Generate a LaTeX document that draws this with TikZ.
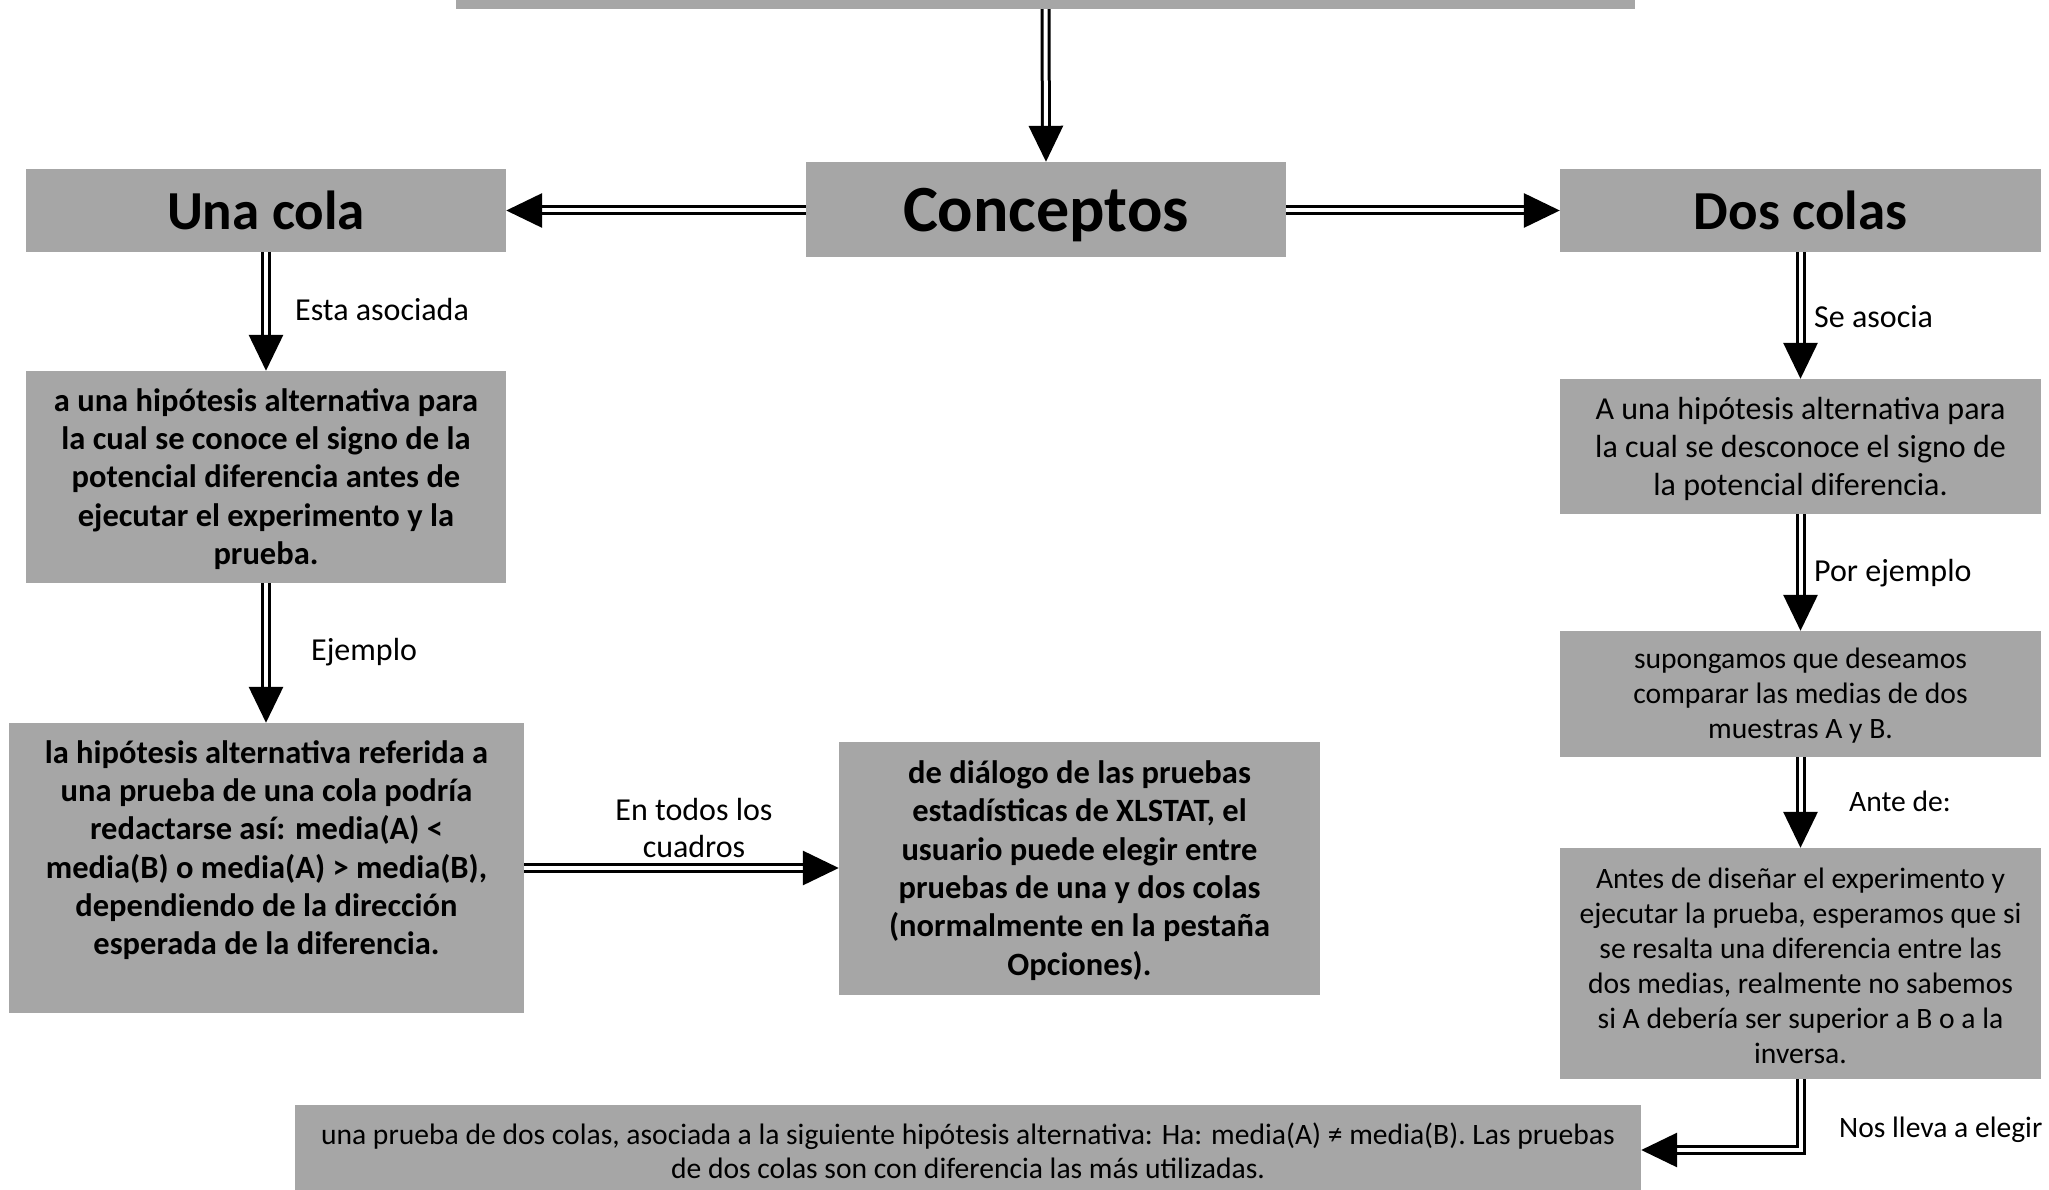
\documentclass[tikz,border=0pt]{standalone}
\usepackage{fontspec}
\setmainfont{Carlito}
\usetikzlibrary{arrows.meta}
\definecolor{boxgray}{HTML}{A6A6A6}
\begin{document}
\begin{tikzpicture}[x=1pt,y=-1pt,
  box/.style={fill=boxgray, inner sep=0pt, align=center, text=black},
  title/.style={box, font=\fontsize{55}{60}\selectfont\bfseries},
  bodyb/.style={align=center, inner sep=0pt, font=\fontsize{32.5}{38.3}\selectfont\bfseries},
  bodyn/.style={align=center, inner sep=0pt, font=\fontsize{32}{38}\selectfont},
  bodys/.style={align=center, inner sep=0pt, font=\fontsize{29.6}{35}\selectfont},
  lbl/.style={inner sep=0pt, align=center, font=\fontsize{32}{37}\selectfont},
  lbls/.style={inner sep=0pt, align=center, font=\fontsize{29.6}{35}\selectfont},
  conn/.style={draw=black, line width=3pt, double=white, double distance=4pt,
    -{Triangle[length=36pt,width=34pt]}},
]
\useasboundingbox (0,0) rectangle (2049,1190);
\clip (0,0) rectangle (2049,1190);
\fill[white] (0,0) rectangle (2049,1190);

% boxes
\node[box, minimum width=1179pt, minimum height=40pt] (top) at (1045.5,-11) {};
\node[box, minimum width=480pt, minimum height=95pt, text depth=0pt, font=\fontsize{66}{70}\selectfont\bfseries] (conc) at (1046,209.5) {Conceptos};
\node[title, minimum width=480pt, minimum height=83pt] (una) at (266,210.5) {Una cola};
\node[title, minimum width=481pt, minimum height=83pt] (dos) at (1800.5,210.5) {Dos colas};

\node[box, minimum width=480pt, minimum height=212pt] (L2) at (266,477) {};
\node[bodyb] (L2t) at (266,479) {a una hipótesis alternativa para\\ la cual se conoce el signo de la\\ potencial diferencia antes de\\ ejecutar el experimento y la\\ prueba.};

\node[box, minimum width=515pt, minimum height=290pt] (L3) at (266.5,868) {};
\node[bodyb] (L3t) at (266.5,850) {la hipótesis alternativa referida a\\ una prueba de una cola podría\\ redactarse así: media(A) <\\ media(B) o media(A) > media(B),\\ dependiendo de la dirección\\ esperada de la diferencia.};

\node[box, minimum width=481pt, minimum height=253pt] (M) at (1079.5,868.5) {};
\node[bodyb] (Mt) at (1079.5,870.5) {de diálogo de las pruebas\\ estadísticas de XLSTAT, el\\ usuario puede elegir entre\\ pruebas de una y dos colas\\ (normalmente en la pestaña\\ Opciones).};

\node[box, minimum width=481pt, minimum height=135pt] (R2) at (1800.5,446.5) {};
\node[bodyn] (R2t) at (1800.5,448.5) {A una hipótesis alternativa para\\ la cual se desconoce el signo de\\ la potencial diferencia.};

\node[box, minimum width=481pt, minimum height=126pt] (R3) at (1800.5,694) {};
\node[bodys] (R3t) at (1800.5,696) {supongamos que deseamos\\ comparar las medias de dos\\ muestras A y B.};

\node[box, minimum width=481pt, minimum height=231pt] (R4) at (1800.5,963.5) {};
\node[bodys] (R4t) at (1800.5,965.5) {Antes de diseñar el experimento y\\ ejecutar la prueba, esperamos que si\\ se resalta una diferencia entre las\\ dos medias, realmente no sabemos\\ si A debería ser superior a B o a la\\ inversa.};

\node[box, minimum width=1346pt, minimum height=90pt] (bot) at (968,1150) {};
\node[inner sep=0pt, align=center, font=\fontsize{29.6}{34}\selectfont] (bott) at (968,1151) {una prueba de dos colas, asociada a la siguiente hipótesis alternativa: Ha: media(A) ≠ media(B). Las pruebas\\ de dos colas son con diferencia las más utilizadas.};

% connectors
\draw[conn] (top.south) -- (conc.north);
\draw[conn] (conc.west |- una.east) -- (una.east);
\draw[conn] (conc.east |- dos.west) -- (dos.west);
\draw[conn] (una.south) -- (L2.north);
\draw[conn] (L2.south) -- (L2.south |- L3.north);
\draw[conn] (L3.east) -- (M.west |- L3.east);
\draw[conn] (dos.south) -- (R2.north);
\draw[conn] (R2.south) -- (R3.north);
\draw[conn] (R3.south) -- (R4.north);
\draw[conn] (R4.south) |- (bot.east);

% labels
\node[lbl, anchor=west] (la) at (295,310) {Esta asociada};
\node[lbl, anchor=west] (lb) at (311,652) {Ejemplo};
\node[lbl] (lc) at (694,828) {En todos los\\ cuadros};
\node[lbl, anchor=west] (ld) at (1814,317) {Se asocia};
\node[lbl, anchor=west] (le) at (1814,573) {Por ejemplo};
\node[lbls] (lf) at (1900,801) {Ante de:};
\node[lbls, anchor=west] (lg) at (1839,1130) {Nos lleva a elegir};
\end{tikzpicture}
\end{document}
